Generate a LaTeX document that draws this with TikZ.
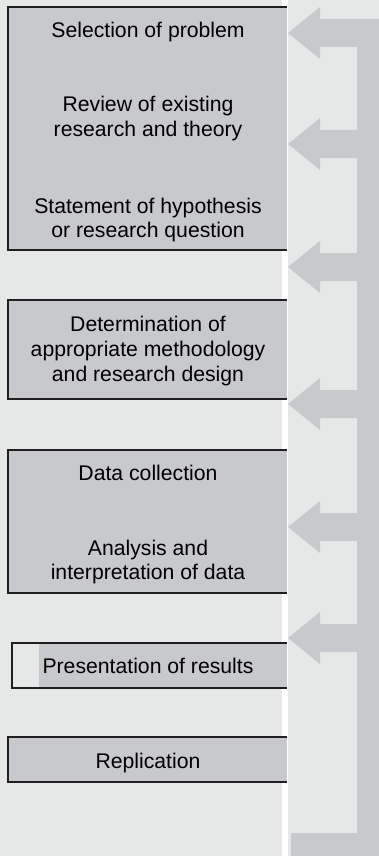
\documentclass[tikz,border=0pt]{standalone}
\usepackage{fontspec}
\setmainfont{Liberation Sans}
\usetikzlibrary{fit}
\definecolor{bglight}{RGB}{230,232,231}
\definecolor{boxgray}{RGB}{200,201,204}
\definecolor{edgecol}{RGB}{31,30,32}
\tikzset{
  boxfill/.style={inner sep=0pt, outer sep=0pt, fill=boxgray, draw=none},
  edge/.style={draw=edgecol, line width=1pt},
  lbl/.style={anchor=base, inner sep=0pt, font=\fontsize{10.6}{12.5}\selectfont, text=black},
  arrowshape/.style={fill=boxgray, draw=none}
}
\begin{document}
\begin{tikzpicture}[x=0.5pt, y=-0.5pt]
\useasboundingbox (0,0) rectangle (379,856);
% backgrounds
\fill[bglight] (0,0) rectangle (282,856);
\fill[white] (282,0) rectangle (288,856);
\fill[bglight] (288,0) rectangle (379,856);
% feedback structure
\fill[arrowshape] (357,20) rectangle (379,856);
\fill[arrowshape] (291,833) rectangle (379,856);
\foreach \c in {33,144,267,404,527,638}{
  \fill[arrowshape] (288,\c) -- (320,\c-26) -- (320,\c-14) -- (379,\c-14)
     -- (379,\c+14) -- (320,\c+14) -- (320,\c+26) -- cycle;
}
% boxes
\node[boxfill, fit={(8,7) (287,250)}] (b1) {};
\draw[edge] (b1.north east) -| (b1.south west) -- (b1.south east);
\node[boxfill, fit={(8,300) (287,399)}] (b2) {};
\draw[edge] (b2.north east) -| (b2.south west) -- (b2.south east);
\node[boxfill, fit={(8,450) (287,593)}] (b3) {};
\draw[edge] (b3.north east) -| (b3.south west) -- (b3.south east);
\node[boxfill, fill=bglight, fit={(12,643) (287,688)}] (b4) {};
\node[boxfill, fit={(39,643) (287,688)}] (b4g) {};
\draw[edge] (b4.north east) -| (b4.south west) -- (b4.south east);
\node[boxfill, fit={(8,737) (287,782)}] (b5) {};
\draw[edge] (b5.north east) -| (b5.south west) -- (b5.south east);
% labels
\node[lbl] (t1) at (148,37.5) {Selection of problem};
\node[lbl] (t2a) at (148,111.7) {Review of existing};
\node[lbl] (t2b) at (148,136.7) {research and theory};
\node[lbl] (t3a) at (148,213.3) {Statement of hypothesis};
\node[lbl] (t3b) at (148,237.3) {or research question};
\node[lbl] (t4a) at (148,331) {Determination of};
\node[lbl] (t4b) at (148,356) {appropriate methodology};
\node[lbl] (t4c) at (148,381) {and research design};
\node[lbl] (t5) at (148,480.7) {Data collection};
\node[lbl] (t6a) at (148,555) {Analysis and};
\node[lbl] (t6b) at (148,579.5) {interpretation of data};
\node[lbl] (t7) at (148,673.3) {Presentation of results};
\node[lbl] (t8) at (148,768.3) {Replication};
\end{tikzpicture}
\end{document}
